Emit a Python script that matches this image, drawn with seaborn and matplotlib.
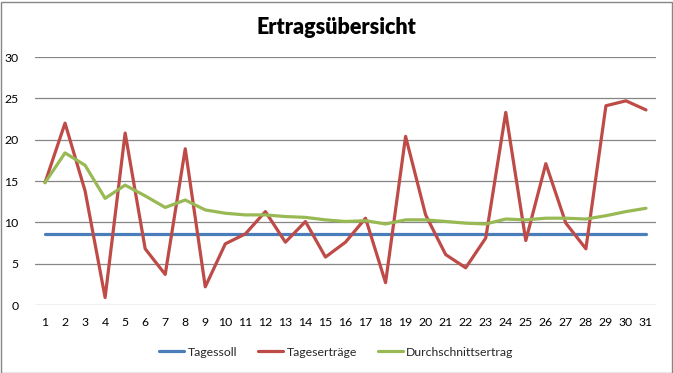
import numpy as np
import pandas as pd
import matplotlib
matplotlib.use("Agg")
import matplotlib.pyplot as plt
import seaborn as sns
from matplotlib.patches import Rectangle

# values
days = list(range(1, 32))
tagessoll = [8.6] * 31
tagesertraege = [14.8, 22.0, 13.8, 0.9, 20.8, 6.8, 3.7, 18.9, 2.2, 7.4, 8.6,
                 11.3, 7.6, 10.1, 5.8, 7.6, 10.5, 2.7, 20.4, 10.9, 6.1, 4.5,
                 8.1, 23.3, 7.8, 17.1, 9.9, 6.8, 24.1, 24.7, 23.6]
durchschnitt = [14.8, 18.4, 16.9, 12.9, 14.5, 13.2, 11.8, 12.7, 11.5, 11.1, 10.9,
                10.9, 10.7, 10.6, 10.3, 10.1, 10.2, 9.8, 10.3, 10.3, 10.1, 9.9,
                9.8, 10.4, 10.3, 10.5, 10.5, 10.4, 10.8, 11.3, 11.7]
series_names = ["Tagessoll", "Tageserträge", "Durchschnittsertrag"]
y_ticks = [0, 5, 10, 15, 20, 25, 30]

df = pd.DataFrame({
    "Tag": days * 3,
    "Wert": tagessoll + tagesertraege + durchschnitt,
    "Reihe": np.repeat(series_names, 31),
})

sns.set_style("white")
plt.rcParams["font.family"] = ["Lato", "DejaVu Sans"]

fig = plt.figure(figsize=(6.73, 3.73), dpi=100)
ax = fig.add_axes([35 / 673, 1 - 305 / 373, 621 / 673, 248 / 373])

palette = {"Tagessoll": "#4A7EBB", "Tageserträge": "#BE4B48",
           "Durchschnittsertrag": "#98B954"}
sns.lineplot(data=df, x="Tag", y="Wert", hue="Reihe", palette=palette,
             linewidth=2.3, ax=ax, legend=True)

ax.set_xlim(0.5, 31.5)
ax.set_ylim(0, 30)
ax.set_xticks(days)
ax.set_yticks(y_ticks)
ax.tick_params(axis="both", length=0, labelsize=8.8, colors="black")
ax.tick_params(axis="y", pad=12)
ax.tick_params(axis="x", pad=9)
ax.yaxis.grid(True, color="#868686", linewidth=0.9)
ax.set_axisbelow(True)
for s in ax.spines.values():
    s.set_visible(False)
ax.set_xlabel("")
ax.set_ylabel("")

ax.legend(loc="center", bbox_to_anchor=(0.485, -0.19), ncol=3, frameon=False,
          fontsize=8.8, handlelength=2.1, handletextpad=0.25, columnspacing=1.7,
          borderaxespad=0)

fig.text(0.5, 1 - 27 / 373, "Ertragsübersicht", ha="center", va="center",
         fontsize=15.5, fontweight="heavy", color="black")

fig.patches.append(Rectangle((0.5 / 673, 0.5 / 373), 671 / 673, 371 / 373,
                             transform=fig.transFigure, fill=False,
                             edgecolor="#868686", linewidth=1))

fig.savefig("out.png", dpi=100)
